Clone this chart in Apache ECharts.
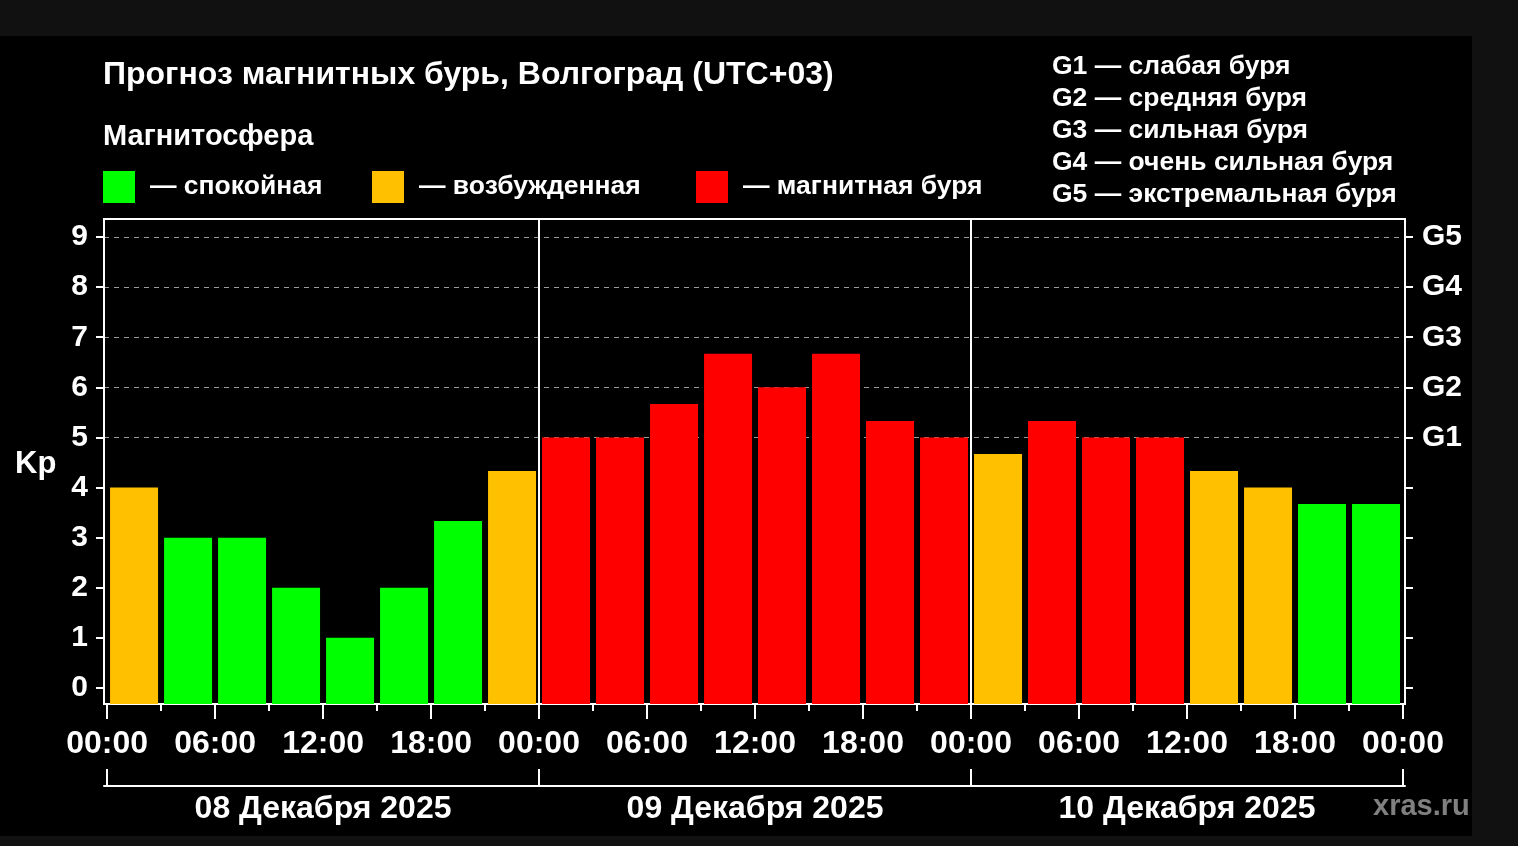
<!DOCTYPE html>
<html>
<head>
<meta charset="utf-8">
<script src="https://cdn.jsdelivr.net/npm/echarts@6.0.0/dist/echarts.min.js"></script>
<style>
html, body { margin: 0; padding: 0; background: #111; width: 1518px; height: 846px; overflow: hidden; }
#chart { position: absolute; left: 0; top: 36px; width: 1472px; height: 800px; }
</style>
</head>
<body>
<div id="chart"></div>
<script>
// Прогноз Kp по 3-часовым интервалам, 08–10 декабря 2025
const hourStarts = [0, 3, 6, 9, 12, 15, 18, 21, 24, 27, 30, 33, 36, 39, 42, 45, 48, 51, 54, 57, 60, 63, 66, 69];
const kpValues = [4, 3, 3, 2, 1, 2, 3.33, 4.33, 5, 5, 5.67, 6.67, 6, 6.67, 5.33, 5, 4.67, 5.33, 5, 5, 4.33, 4, 3.67, 3.67];

// подписи осей
const hourTicks = [0, 6, 12, 18, 24, 30, 36, 42, 48, 54, 60, 66, 72];
const hourMinorTicks = [3, 9, 15, 21, 27, 33, 39, 45, 51, 57, 63, 69];
const dayBounds = [0, 24, 48, 72];
const dayCenters = [12, 36, 60];
const dayLabels = ['08 Декабря 2025', '09 Декабря 2025', '10 Декабря 2025'];
const kpTicks = [0, 1, 2, 3, 4, 5, 6, 7, 8, 9];
const stormLevels = [5, 6, 7, 8, 9];
const stormLabels = ['G1', 'G2', 'G3', 'G4', 'G5'];

// легенда
const levelNames = ['спокойная', 'возбужденная', 'магнитная буря'];
const levelColors = ['#00ff00', '#ffc000', '#ff0000'];
const legendLeft = [103, 372, 696];
const stormLegend = [
    'G1 — слабая буря',
    'G2 — средняя буря',
    'G3 — сильная буря',
    'G4 — очень сильная буря',
    'G5 — экстремальная буря'
];

const FONT = 'Liberation Sans, Arial, sans-serif';
const txt = (size, extra) => Object.assign({ color: '#fff', fontFamily: FONT, fontWeight: 'bold', fontSize: size }, extra || {});

function levelOf(v) {
    if (v >= 5) return 2;
    if (v >= 4) return 1;
    return 0;
}

const chart = echarts.init(document.getElementById('chart'));

const series = levelNames.map((name, i) => ({
    name: name,
    type: 'bar',
    xAxisIndex: 0,
    yAxisIndex: 0,
    barWidth: 48,
    barGap: '-100%',
    itemStyle: { color: levelColors[i] },
    data: hourStarts
        .map((h, k) => [h + 1.5, kpValues[k]])
        .filter((p) => levelOf(p[1]) === i)
}));

// вертикальные линии между сутками
series[2].markLine = {
    silent: true,
    symbol: 'none',
    label: { show: false },
    lineStyle: { color: '#fff', width: 2, type: 'solid' },
    data: dayBounds.slice(1, 3).map((d) => ({ xAxis: d }))
};

const yRange = { min: -0.32, max: 9.36 };

chart.setOption({
    backgroundColor: '#000',
    animation: false,
    title: [
        { text: 'Прогноз магнитных бурь, Волгоград (UTC+03)', left: 103, top: 23, padding: 0, textStyle: txt(32) },
        { text: 'Магнитосфера', left: 103, top: 86, padding: 0, textStyle: txt(29) },
        { text: stormLegend.join('\n'), left: 1052, top: 15, padding: 0, textStyle: txt(26.5, { lineHeight: 32 }) },
        { text: 'Kp', left: 15, top: 413, padding: 0, textStyle: txt(31) },
        { text: 'xras.ru', left: 1373, top: 756, padding: 0, textStyle: txt(29, { color: '#808080' }) }
    ],
    legend: levelNames.map((name, i) => ({
        left: legendLeft[i],
        top: 135,
        padding: 0,
        itemWidth: 32,
        itemHeight: 32,
        icon: 'rect',
        selectedMode: false,
        data: [name],
        formatter: (n) => '— ' + n,
        textStyle: txt(26.5, { padding: [0, 0, 0, 10] })
    })),
    grid: {
        left: 104,
        right: 67,
        top: 183,
        bottom: 132,
        show: true,
        borderColor: '#fff',
        borderWidth: 2,
        backgroundColor: 'transparent'
    },
    xAxis: [
        {
            type: 'value',
            position: 'bottom',
            min: -0.17,
            max: 72.11,
            axisLine: { onZero: false, lineStyle: { color: '#fff', width: 2 } },
            axisTick: { customValues: hourTicks, length: 15, lineStyle: { color: '#fff', width: 2 } },
            axisLabel: {
                customValues: hourTicks,
                margin: 24,
                formatter: (v) => String(v % 24).padStart(2, '0') + ':00',
                ...txt(32)
            },
            splitLine: { show: false }
        },
        {
            type: 'value',
            position: 'bottom',
            min: -0.17,
            max: 72.11,
            axisLine: { show: false, onZero: false },
            axisTick: { customValues: hourMinorTicks, length: 7, lineStyle: { color: '#fff', width: 2 } },
            axisLabel: { show: false },
            splitLine: { show: false }
        },
        {
            type: 'value',
            position: 'bottom',
            offset: 82,
            min: -0.17,
            max: 72.11,
            axisLine: { onZero: false, lineStyle: { color: '#fff', width: 2 } },
            axisTick: { customValues: dayBounds, inside: true, length: 17, lineStyle: { color: '#fff', width: 2 } },
            axisLabel: {
                customValues: dayCenters,
                margin: 7,
                formatter: (v) => dayLabels[dayCenters.indexOf(v)],
                ...txt(32)
            },
            splitLine: { show: false }
        }
    ],
    yAxis: [
        {
            type: 'value',
            position: 'left',
            ...yRange,
            startValue: yRange.min,
            axisLine: { onZero: false, lineStyle: { color: '#fff', width: 2 } },
            axisTick: { customValues: kpTicks, length: 8, lineStyle: { color: '#fff', width: 2 } },
            axisLabel: { customValues: kpTicks, margin: 16, ...txt(30, { padding: [4, 0, 0, 0] }) },
            splitLine: { show: false }
        },
        {
            type: 'value',
            position: 'right',
            ...yRange,
            axisLine: { onZero: false, lineStyle: { color: '#fff', width: 2 } },
            axisTick: { customValues: kpTicks, length: 8, lineStyle: { color: '#fff', width: 2 } },
            axisLabel: {
                customValues: stormLevels,
                margin: 17,
                formatter: (v) => stormLabels[stormLevels.indexOf(v)],
                ...txt(30, { padding: [4, 0, 0, 0] })
            },
            splitLine: { show: false }
        },
        {
            // пунктир только на уровнях G1–G5
            type: 'value',
            position: 'left',
            ...yRange,
            axisLine: { show: false, onZero: false },
            axisTick: { show: false, customValues: stormLevels },
            axisLabel: { show: false },
            splitLine: { show: true, lineStyle: { color: '#999', width: 1, type: [5, 5] } }
        }
    ],
    series: series
});
</script>
</body>
</html>
